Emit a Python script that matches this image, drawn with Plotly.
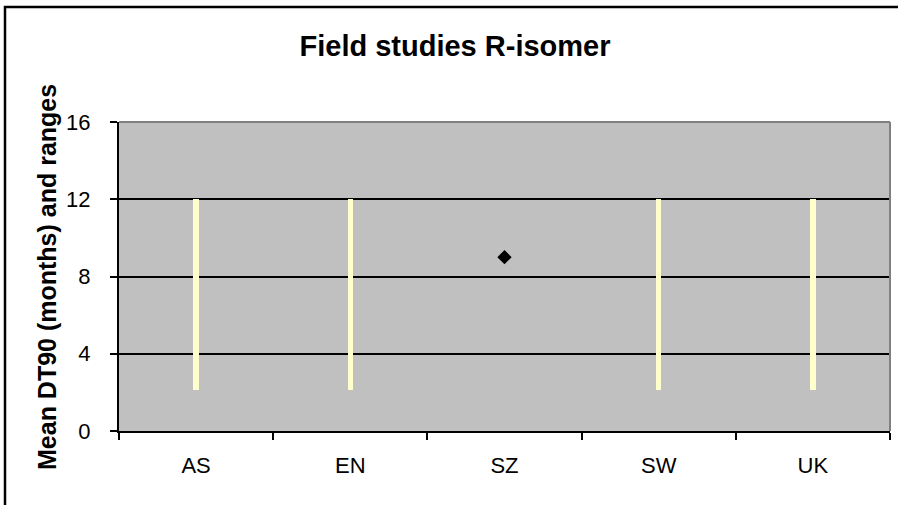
import plotly.graph_objects as go

# Field study DT90 results for the R-isomer, by region
regions = ["AS", "EN", "SZ", "SW", "UK"]
range_low = [2.1, 2.1, None, 2.1, 2.1]     # months
range_high = [12, 12, None, 12, 12]        # months
mean_dt90 = [None, None, 9, None, None]    # months (single-study region)

y_ticks = [0, 4, 8, 12, 16]

FONT = "Liberation Sans, Arial, sans-serif"

bar_len = [None if lo is None else hi - lo for lo, hi in zip(range_low, range_high)]

fig = go.Figure()

# Range bars (low to high)
fig.add_trace(go.Bar(
    x=regions,
    y=bar_len,
    base=range_low,
    width=0.035,
    marker=dict(color="#FFFFCC", line=dict(width=0)),
    hoverinfo="skip",
    showlegend=False,
))

# Mean markers
fig.add_trace(go.Scatter(
    x=regions,
    y=mean_dt90,
    mode="markers",
    marker=dict(symbol="diamond", size=11, color="black"),
    showlegend=False,
))

fig.update_layout(
    width=898,
    height=505,
    margin=dict(l=119, r=8, t=122, b=74),
    paper_bgcolor="white",
    plot_bgcolor="#C0C0C0",
    font=dict(family=FONT, color="black", size=22),
    title=dict(
        text="<b>Field studies R-isomer</b>",
        x=455 / 898, xref="container", xanchor="center",
        y=1 - 46 / 505, yref="container", yanchor="middle",
        font=dict(family=FONT, size=29, color="black"),
    ),
    xaxis=dict(
        type="category",
        range=[-0.5, 4.5],
        tickson="boundaries",
        ticks="outside",
        ticklen=7,
        tickwidth=1.5,
        tickcolor="black",
        ticklabelstandoff=14,
        showline=True,
        linecolor="black",
        linewidth=2,
        showgrid=False,
        tickfont=dict(family=FONT, size=22),
        fixedrange=True,
    ),
    yaxis=dict(
        range=[0, 16],
        tickvals=y_ticks,
        ticks="outside",
        ticklen=7,
        tickwidth=1.5,
        tickcolor="black",
        ticklabelstandoff=15,
        showline=True,
        linecolor="black",
        linewidth=2,
        showgrid=True,
        gridcolor="black",
        gridwidth=2,
        zeroline=False,
        tickfont=dict(family=FONT, size=22),
        fixedrange=True,
    ),
    bargap=0,
    shapes=[
        # gray frame on top/right of the plot area
        dict(type="line", xref="paper", yref="paper", x0=0, x1=1, y0=1, y1=1,
             line=dict(color="#808080", width=2)),
        dict(type="line", xref="paper", yref="paper", x0=1, x1=1, y0=0, y1=1,
             line=dict(color="#808080", width=2)),
        # chart border
        dict(type="rect", xref="paper", yref="paper",
             x0=(5 - 119) / 771, x1=(920 - 119) / 771,
             y0=(431 - 530) / 309, y1=(431 - 7) / 309,
             line=dict(color="black", width=2.5), layer="above"),
    ],
    annotations=[
        dict(
            text="<b>Mean DT90 (months) and ranges</b>",
            textangle=-90,
            xref="paper", yref="paper",
            x=(47 - 119) / 771, y=(431 - 277) / 309,
            xanchor="center", yanchor="middle",
            showarrow=False,
            font=dict(family=FONT, size=25, color="black"),
        )
    ],
)

fig.write_html("out.html")
